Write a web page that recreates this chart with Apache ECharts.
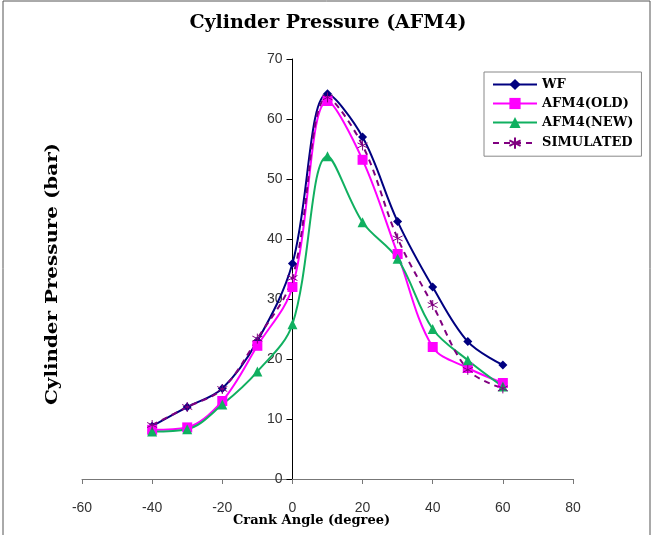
<!DOCTYPE html>
<html>
<head>
<meta charset="utf-8">
<script src="https://cdn.jsdelivr.net/npm/echarts@6/dist/echarts.min.js"></script>
<style>
  html, body { margin: 0; padding: 0; background: #fff; }
  #chart { width: 656px; height: 535px; }
</style>
</head>
<body>
<div id="chart"></div>
<script>
// crank angle (degree)
const angles = [-40, -30, -20, -10, 0, 10, 20, 30, 40, 50, 60];
// cylinder pressure (bar)
const wf = [8.8, 12, 15.1, 23, 35.9, 64.2, 57, 42.9, 32, 22.9, 19];
const afmOld = [8.2, 8.6, 13, 22.2, 32, 63, 53.2, 37.5, 22, 18.5, 16];
const afmNew = [7.9, 8.3, 12.4, 17.9, 25.8, 53.8, 42.8, 36.7, 25, 19.8, 15.4];
const simulated = [9, 12, 15, 23.4, 33.5, 63.6, 55.6, 40.1, 29, 18.2, 15.1];

const xTicks = { min: -60, max: 80, interval: 20 };
const yTicks = { min: 0, max: 70, interval: 10 };

const serifBold = '"DejaVu Serif", "Liberation Serif", serif';
const tickFont = '"Liberation Sans", Arial, sans-serif';

const pair = (vals) => angles.map((a, i) => [a, vals[i]]);
const asterisk = 'path://M5,0L5,10M0.7,2.5L9.3,7.5M9.3,2.5L0.7,7.5';

const chart = echarts.init(document.getElementById('chart'), null, { renderer: 'canvas' });

const baseSeries = (name, vals, color, symbol, size, extra) => Object.assign({
  name,
  type: 'line',
  data: pair(vals),
  smooth: 0.35,
  symbol,
  symbolSize: size,
  lineStyle: { color, width: 2 },
  itemStyle: { color },
  emphasis: { disabled: true },
  z: 3,
}, extra || {});

chart.setOption({
  animation: false,
  backgroundColor: '#fff',
  title: {
    text: 'Cylinder Pressure (AFM4)',
    left: 'center',
    top: 9,
    textStyle: { fontFamily: serifBold, fontWeight: 'bold', fontSize: 19, color: '#000' },
  },
  grid: { left: 82, right: 83, top: 59, bottom: 56, containLabel: false },
  legend: {
    orient: 'vertical',
    left: 484,
    top: 72,
    padding: [6, 8, 5, 8],
    itemGap: 6,
    itemWidth: 44,
    itemHeight: 14,
    borderColor: '#888',
    borderWidth: 1,
    textStyle: { fontFamily: serifBold, fontWeight: 'bold', fontSize: 13, color: '#000' },
    data: ['WF', 'AFM4(OLD)', 'AFM4(NEW)', 'SIMULATED'],
  },
  xAxis: {
    type: 'value',
    min: xTicks.min,
    max: xTicks.max,
    interval: xTicks.interval,
    splitLine: { show: false },
    axisLine: { onZero: false, lineStyle: { color: '#777', width: 1 } },
    axisTick: { show: true, length: 5, lineStyle: { color: '#777' } },
    axisLabel: { margin: 22, fontFamily: tickFont, fontSize: 14, color: '#333' },
  },
  yAxis: {
    type: 'value',
    min: yTicks.min,
    max: yTicks.max,
    interval: yTicks.interval,
    offset: -210.5,
    splitLine: { show: false },
    axisLine: { onZero: false, lineStyle: { color: '#000', width: 1 } },
    axisTick: { show: true, length: 6, lineStyle: { color: '#000' } },
    axisLabel: { margin: 10, fontFamily: tickFont, fontSize: 14, color: '#333' },
  },
  graphic: [
    {
      type: 'rect',
      shape: { x: 3, y: 1, width: 647, height: 560 },
      style: { fill: 'none', stroke: '#555', lineWidth: 1 },
      silent: true,
      z: -1,
    },
    {
      type: 'text',
      left: 233,
      top: 514,
      style: { text: 'Crank Angle (degree)', font: 'bold 13px ' + serifBold, fill: '#000' },
    },
    {
      type: 'text',
      x: 44,
      y: 405,
      rotation: Math.PI / 2,
      scaleX: 1.17,
      style: { text: 'Cylinder Pressure (bar)', font: 'bold 17px ' + serifBold, fill: '#000' },
    },
  ],
  series: [
    baseSeries('WF', wf, '#000080', 'diamond', 9),
    baseSeries('AFM4(OLD)', afmOld, '#ff00ff', 'rect', 10),
    baseSeries('AFM4(NEW)', afmNew, '#10b060', 'triangle', 10),
    baseSeries('SIMULATED', simulated, '#800080', asterisk, 10, {
      lineStyle: { color: '#800080', width: 2, type: [6, 5] },
      itemStyle: { color: 'none', borderColor: '#800080', borderWidth: 1 },
    }),
  ],
});
</script>
</body>
</html>
